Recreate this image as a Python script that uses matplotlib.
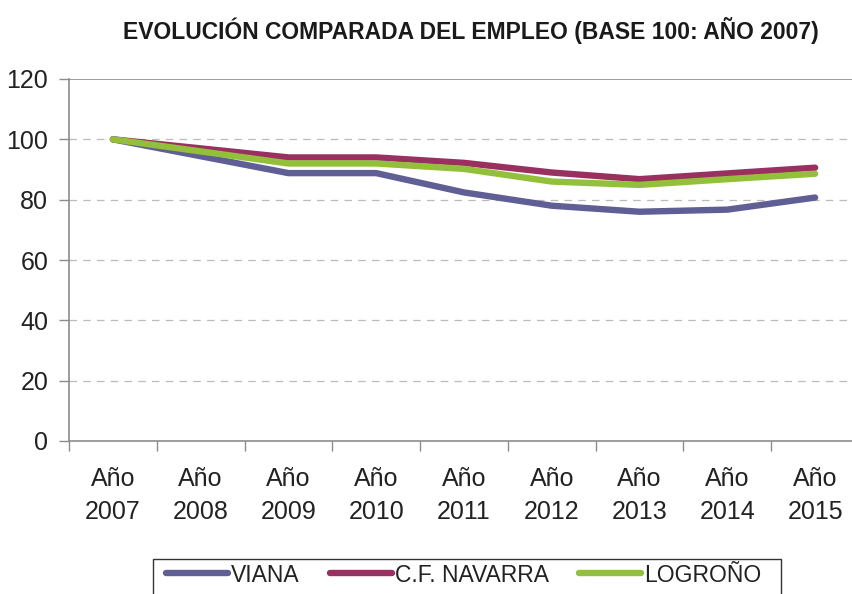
import numpy as np
import matplotlib
matplotlib.use("Agg")
import matplotlib.pyplot as plt
from matplotlib.patches import Rectangle
from matplotlib.ticker import FixedLocator, NullFormatter

plt.rcParams['font.family'] = ['Liberation Sans', 'DejaVu Sans']

years = ["Año\n2007", "Año\n2008", "Año\n2009", "Año\n2010", "Año\n2011",
         "Año\n2012", "Año\n2013", "Año\n2014", "Año\n2015"]
viana = [100, 94.4, 88.8, 88.8, 82.4, 78.0, 76.0, 76.7, 80.7]
navarra = [100, 97.0, 94.0, 94.0, 92.2, 89.0, 86.8, 88.7, 90.6]
logrono = [100, 96.0, 92.0, 92.0, 90.2, 86.0, 84.9, 86.8, 88.6]
series_names = ["VIANA", "C.F. NAVARRA", "LOGROÑO"]
colors = ["#5F5F96", "#99305F", "#92C03A"]

W, H = 853, 594
fig = plt.figure(figsize=(W / 100, H / 100), dpi=100)
ax = fig.add_axes([69 / W, 1 - 441 / H, 790 / W, 362 / H])

x = np.arange(len(years))
for vals, name, c in zip([viana, navarra, logrono], series_names, colors):
    ax.plot(x, vals, color=c, lw=4.6, label=name, solid_capstyle="round",
            solid_joinstyle="round", zorder=3)

ax.set_xlim(-0.5, len(years) - 0.5)
ax.set_ylim(0, 120)
ax.set_yticks(range(0, 121, 20))
for yv in range(20, 120, 20):
    ax.axhline(yv, color="#BBBBBB", lw=0.9, ls=(0, (6, 5)), zorder=1)
ax.axhline(120, color="#8C8C8C", lw=1.2, zorder=1)

# category ticks at boundaries, labels at centers
ax.xaxis.set_major_locator(FixedLocator(np.arange(-0.5, len(years), 1.0)))
ax.xaxis.set_major_formatter(NullFormatter())
ax.xaxis.set_minor_locator(FixedLocator(x))
ax.set_xticklabels(years, minor=True)
ax.tick_params(axis="x", which="major", length=7, width=1, color="#8C8C8C", direction="out")
ax.tick_params(axis="x", which="minor", length=0, pad=19, labelsize=18, labelcolor="#222222")
for t in ax.get_xticklabels(minor=True):
    t.set_linespacing(1.45)
ax.tick_params(axis="y", length=7, width=1, color="#8C8C8C", pad=8, labelsize=18,
               labelcolor="#222222")

for s in ["top", "right"]:
    ax.spines[s].set_visible(False)
for s in ["left", "bottom"]:
    ax.spines[s].set_color("#8C8C8C")
    ax.spines[s].set_linewidth(1.2)

fig.text(471 / W, 1 - 30 / H, "EVOLUCIÓN COMPARADA DEL EMPLEO (BASE 100: AÑO 2007)",
         ha="center", va="center", fontsize=16.5, fontweight="bold", color="#1A1A1A")

# legend box (cut at the bottom edge like the original)
fig.patches.append(Rectangle((153 / W, -0.05), (781 - 153) / W, 0.05 + 1 - 559 / H,
                             transform=fig.transFigure, fill=False,
                             edgecolor="#333333", lw=1.0))
leg = fig.legend(loc="center left", bbox_to_anchor=(166 / W, 1 - 575 / H), ncol=3,
                 fontsize=16.5, frameon=False, handlelength=2.7,
                 handletextpad=0.15, columnspacing=1.3, borderpad=0,
                 borderaxespad=0)
for t in leg.get_texts():
    t.set_color("#222222")

fig.savefig("out.png", dpi=100)
